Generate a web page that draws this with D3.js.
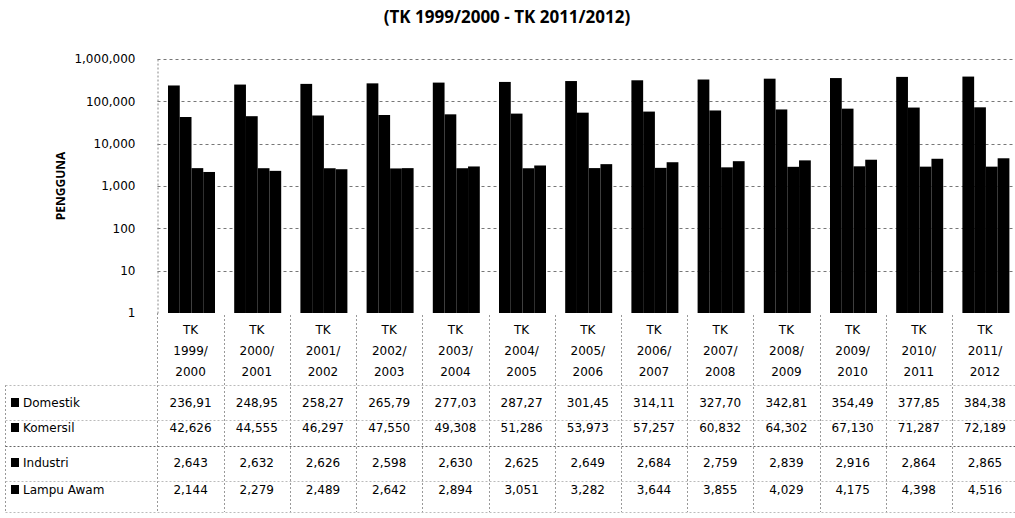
<!DOCTYPE html>
<html>
<head>
<meta charset="utf-8">
<script src="https://cdn.jsdelivr.net/npm/d3@7"></script>
<style>
  html, body { margin: 0; padding: 0; background: #fff; }
  svg { display: block; }
  text { fill: #000; }
</style>
</head>
<body>
<svg id="chart" width="1015" height="518"></svg>
<script>
// Number of electricity users per sector, TK 1999/2000 to TK 2011/2012
const categories = ["TK 1999/2000", "TK 2000/2001", "TK 2001/2002", "TK 2002/2003", "TK 2003/2004",
  "TK 2004/2005", "TK 2005/2006", "TK 2006/2007", "TK 2007/2008", "TK 2008/2009",
  "TK 2009/2010", "TK 2010/2011", "TK 2011/2012"];
const seriesNames = ["Domestik", "Komersil", "Industri", "Lampu Awam"];
const domestik = [236910, 248950, 258270, 265790, 277030, 287270, 301450, 314110, 327700, 342810, 354490, 377850, 384380];
const komersil = [42626, 44555, 46297, 47550, 49308, 51286, 53973, 57257, 60832, 64302, 67130, 71287, 72189];
const industri = [2643, 2632, 2626, 2598, 2630, 2625, 2649, 2684, 2759, 2839, 2916, 2864, 2865];
const lampuAwam = [2144, 2279, 2489, 2642, 2894, 3051, 3282, 3644, 3855, 4029, 4175, 4398, 4516];
const yTicks = [1, 10, 100, 1000, 10000, 100000, 1000000];
const title = "(TK 1999/2000 - TK 2011/2012)";
const yTitle = "PENGGUNA";

const seriesValues = [domestik, komersil, industri, lampuAwam];
const rows = categories.map((c, i) => ({ cat: c, values: seriesValues.map(s => s[i]) }));

const svg = d3.select("#chart");
const font = "'DejaVu Sans', sans-serif";

const plotLeft = 157.5, plotTop = 59, plotBottom = 313;
const step = 66.2;

const x0 = d3.scaleBand()
  .domain(categories)
  .range([plotLeft, plotLeft + step * categories.length])
  .padding(0);
const x1 = d3.scaleBand()
  .domain(seriesNames)
  .range([10.5, 57.5])
  .padding(0);
const y = d3.scaleLog()
  .domain([1, 1000000])
  .range([plotBottom, plotTop]);

// Title
svg.append("text")
  .attr("x", 507).attr("y", 23)
  .attr("text-anchor", "middle")
  .attr("font-family", "'Open Sans', sans-serif")
  .attr("font-weight", "bold")
  .attr("font-size", 17)
  .text(title);

// Horizontal gridlines
svg.append("g")
  .selectAll("line")
  .data(yTicks.slice(1))
  .join("line")
  .attr("x1", plotLeft).attr("x2", 1015)
  .attr("y1", d => Math.round(y(d)) + 0.5)
  .attr("y2", d => Math.round(y(d)) + 0.5)
  .attr("stroke", "#777")
  .attr("stroke-width", 1)
  .attr("stroke-dasharray", "3,3");

// Y axis
const yAxis = d3.axisLeft(y)
  .tickValues(yTicks)
  .tickFormat(d3.format(","))
  .tickSize(0)
  .tickPadding(22);
const gy = svg.append("g")
  .attr("transform", `translate(${plotLeft},0)`)
  .call(yAxis);
gy.select(".domain")
  .attr("stroke", "#888")
  .attr("stroke-dasharray", "2,2");
gy.selectAll("text")
  .attr("font-family", font)
  .attr("font-size", 12)
  .attr("fill", "#000");

svg.append("text")
  .attr("transform", `translate(65,186) rotate(-90)`)
  .attr("text-anchor", "middle")
  .attr("font-family", "'Open Sans', sans-serif")
  .attr("font-weight", "bold")
  .attr("font-size", 12)
  .text(yTitle);

// Bars
const groups = svg.append("g")
  .selectAll("g")
  .data(rows)
  .join("g")
  .attr("transform", d => `translate(${x0(d.cat)},0)`);
groups.selectAll("rect")
  .data(d => d.values.map((v, k) => ({ name: seriesNames[k], value: v })))
  .join("rect")
  .attr("x", d => x1(d.name))
  .attr("width", x1.bandwidth())
  .attr("y", d => y(d.value))
  .attr("height", d => y(1) - y(d.value))
  .attr("fill", "#000");

// Category labels under the plot: "TK" / "1999/" / "2000"
const catLines = c => {
  const parts = c.split(" ");
  const yrs = parts[1].split("/");
  return [parts[0], yrs[0] + "/", yrs[1]];
};
const catG = svg.append("g");
rows.forEach(r => {
  const cx = x0(r.cat) + x0.bandwidth() / 2;
  catLines(r.cat).forEach((t, j) => {
    catG.append("text")
      .attr("x", cx)
      .attr("y", 334 + j * 21)
      .attr("text-anchor", "middle")
      .attr("font-family", font)
      .attr("font-size", 12)
      .text(t);
  });
});

// Data table
const tableTop = 385, tableBottom = 512;
const rowY = [407, 432, 467, 494];
const lineGrey = "#999";

// vertical separators between categories
svg.append("g")
  .selectAll("line")
  .data(categories.slice(1))
  .join("line")
  .attr("x1", d => Math.round(x0(d)) + 0.5)
  .attr("x2", d => Math.round(x0(d)) + 0.5)
  .attr("y1", plotBottom + 2)
  .attr("y2", tableBottom)
  .attr("stroke", lineGrey)
  .attr("stroke-dasharray", "2,2");

// left border of the table and of the header column
[5.5, plotLeft].forEach(xv => {
  svg.append("line")
    .attr("x1", xv).attr("x2", xv)
    .attr("y1", xv < 10 ? tableTop : plotBottom)
    .attr("y2", tableBottom)
    .attr("stroke", lineGrey)
    .attr("stroke-dasharray", "2,2");
});

// horizontal lines between table rows
[tableTop, 420, 446, 481, tableBottom].forEach(yv => {
  svg.append("line")
    .attr("x1", 5.5).attr("x2", 1015)
    .attr("y1", yv + 0.5).attr("y2", yv + 0.5)
    .attr("stroke", yv === 446 ? "#666" : "#bbb")
    .attr("stroke-dasharray", "2,2");
});

// the domestic column is narrow, so its last digit is clipped
const fmt = d3.format(",");
const cellText = (v, k) => k === 0 ? fmt(v).slice(0, -1) : fmt(v);

seriesNames.forEach((name, k) => {
  const yy = rowY[k];
  svg.append("rect")
    .attr("x", 11).attr("y", yy - 9)
    .attr("width", 8).attr("height", 9)
    .attr("fill", "#000");
  svg.append("text")
    .attr("x", 23).attr("y", yy)
    .attr("font-family", font)
    .attr("font-size", 12)
    .text(name);
  rows.forEach(r => {
    svg.append("text")
      .attr("x", x0(r.cat) + x0.bandwidth() / 2)
      .attr("y", yy)
      .attr("text-anchor", "middle")
      .attr("font-family", font)
      .attr("font-size", 12)
      .text(cellText(r.values[k], k));
  });
});
</script>
</body>
</html>
